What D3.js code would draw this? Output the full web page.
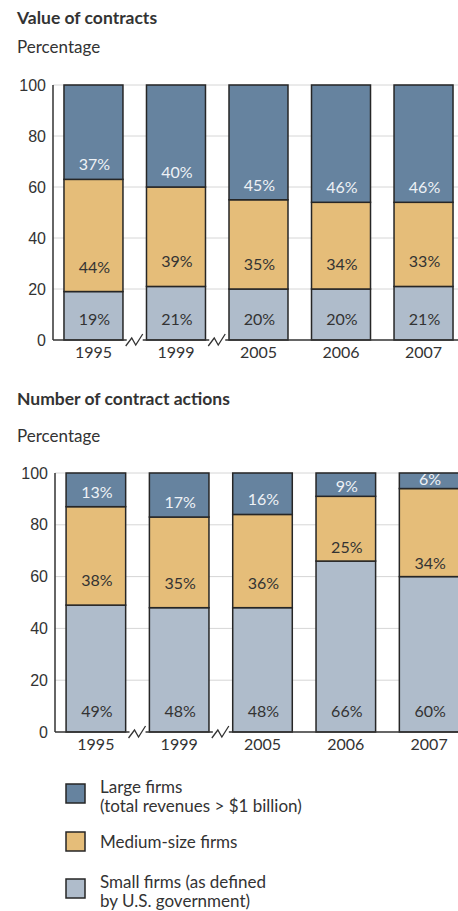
<!DOCTYPE html>
<html>
<head>
<meta charset="utf-8">
<script src="https://cdn.jsdelivr.net/npm/d3@7"></script>
<style>
  body { margin: 0; background: #fff; }
  text { font-family: Lato, "Open Sans", sans-serif; }
</style>
</head>
<body>
<svg class="chart"></svg>
<script>
// Data
var years = ["1995", "1999", "2005", "2006", "2007"];
var valueLarge = [37, 40, 45, 46, 46];
var valueMedium = [44, 39, 35, 34, 33];
var valueSmall = [19, 21, 20, 20, 21];
var actionsLarge = [13, 17, 16, 9, 6];
var actionsMedium = [38, 35, 36, 25, 34];
var actionsSmall = [49, 48, 48, 66, 60];
var yTicks = [0, 20, 40, 60, 80, 100];
var breaksAfter = ["1995", "1999"]; // axis break after these years
var legendLabels = [
  ["Large firms", "(total revenues > $1 billion)"],
  ["Medium-size firms"],
  ["Small firms (as defined", "by U.S. government)"]
];

var width = 458, height = 911;
var keys = ["small", "medium", "large"];
var colors = { large: "#66839f", medium: "#e5bd79", small: "#afbccb" };
var labelColors = { large: "#eef2f6", medium: "#333", small: "#333" };

var svg = d3.select(".chart")
  .attr("width", width)
  .attr("height", height);

function drawChart(cfg) {
  var rows = years.map(function (yr, i) {
    return { year: yr, large: cfg.large[i], medium: cfg.medium[i], small: cfg.small[i] };
  });
  var series = d3.stack().keys(keys)(rows);

  var x = d3.scaleBand()
    .domain(years)
    .range([cfg.left, cfg.left + cfg.span])
    .paddingInner(0.285)
    .paddingOuter(0.133);

  var y = d3.scaleLinear()
    .domain([0, 100])
    .range([cfg.bottom, cfg.top]);

  var g = svg.append("g");

  // titles
  g.append("text")
    .attr("x", 17).attr("y", cfg.titleY)
    .style("font-size", "17.5px").style("font-weight", "bold")
    .attr("fill", "#333")
    .text(cfg.title);
  g.append("text")
    .attr("x", 17).attr("y", cfg.titleY + 29 + (cfg.subGap || 0))
    .style("font-size", "17px")
    .attr("fill", "#333")
    .text("Percentage");

  // gridlines
  g.selectAll(".grid")
    .data(yTicks.filter(function (d) { return d > 0; }))
    .enter().append("line")
    .attr("x1", cfg.left).attr("x2", width)
    .attr("y1", function (d) { return y(d); })
    .attr("y2", function (d) { return y(d); })
    .attr("stroke", "#d6d6d6").attr("stroke-width", 1);

  // y axis labels
  var axis = g.append("g")
    .attr("transform", "translate(" + cfg.left + ",0)")
    .call(d3.axisLeft(y).tickValues(yTicks).tickSize(0).tickPadding(7));
  axis.select(".domain").remove();
  axis.selectAll("text")
    .style("font-family", "'Liberation Sans', Arial, sans-serif")
    .style("font-size", "16px")
    .attr("fill", "#333");

  g.append("line")
    .attr("x1", cfg.left).attr("x2", cfg.left)
    .attr("y1", y(0)).attr("y2", y(100))
    .attr("stroke", "#333").attr("stroke-width", 1.5);

  // bars
  var layer = g.selectAll(".layer")
    .data(series)
    .enter().append("g");

  layer.selectAll("rect")
    .data(function (s) { return s.map(function (d) { return { key: s.key, d: d }; }); })
    .enter().append("rect")
    .attr("x", function (p) { return x(p.d.data.year); })
    .attr("width", x.bandwidth())
    .attr("y", function (p) { return y(p.d[1]); })
    .attr("height", function (p) { return y(p.d[0]) - y(p.d[1]); })
    .attr("fill", function (p) { return colors[p.key]; })
    .attr("stroke", "#262626")
    .attr("stroke-width", 1.5);

  // value labels, sitting near the bottom of each segment
  layer.selectAll("text")
    .data(function (s) { return s.map(function (d) { return { key: s.key, d: d }; }); })
    .enter().append("text")
    .attr("x", function (p) { return x(p.d.data.year) + x.bandwidth() / 2 + 1; })
    .attr("y", function (p) {
      var base = y(p.d[0]);
      var largePx = (p.d.data.large) * (cfg.bottom - cfg.top) / 100;
      if (p.key === "large") return base - (largePx < 30 ? 4 : 9);
      if (p.key === "medium") return base - (p.d.data.large < 12 ? 8 : 19);
      return base - 15;
    })
    .attr("text-anchor", "middle")
    .style("font-size", "16px")
    .attr("fill", function (p) { return labelColors[p.key]; })
    .text(function (p) { return p.d.data[p.key] + "%"; });

  // baseline with axis breaks
  var gaps = breaksAfter.map(function (yr) {
    var i = years.indexOf(yr);
    return (x(yr) + x.bandwidth() + x(years[i + 1])) / 2;
  });
  var y0 = y(0);
  var segs = [];
  var start = cfg.left;
  gaps.forEach(function (c) {
    segs.push([start, c - 8]);
    start = c + 8;
  });
  segs.push([start, width]);
  g.selectAll(".base")
    .data(segs)
    .enter().append("line")
    .attr("x1", function (d) { return d[0]; })
    .attr("x2", function (d) { return d[1]; })
    .attr("y1", y0).attr("y2", y0)
    .attr("stroke", "#333").attr("stroke-width", 1.5);
  g.selectAll(".zig")
    .data(gaps)
    .enter().append("path")
    .attr("d", function (c) {
      return "M" + (c - 9) + "," + (y0 + 6) + "L" + (c - 3) + "," + (y0 - 2) +
        "L" + (c + 1) + "," + (y0 + 5) + "L" + (c + 8) + "," + (y0 - 6);
    })
    .attr("fill", "none").attr("stroke", "#333").attr("stroke-width", 1.3);

  // year labels
  g.selectAll(".year")
    .data(years)
    .enter().append("text")
    .attr("x", function (d) { return x(d) + x.bandwidth() / 2; })
    .attr("y", y0 + 18)
    .attr("text-anchor", "middle")
    .style("font-size", "16px")
    .attr("fill", "#333")
    .text(function (d) { return d; });
}

drawChart({
  title: "Value of contracts", titleY: 24,
  top: 85, bottom: 340, left: 53, span: 411,
  large: valueLarge, medium: valueMedium, small: valueSmall
});

drawChart({
  title: "Number of contract actions", titleY: 405, subGap: 8,
  top: 473, bottom: 732, left: 55, span: 415,
  large: actionsLarge, medium: actionsMedium, small: actionsSmall
});

// legend
var legendKeys = ["large", "medium", "small"];
var legendY = [784, 832, 879];
var legend = svg.selectAll(".legend")
  .data(legendKeys)
  .enter().append("g")
  .attr("transform", function (d, i) { return "translate(66," + legendY[i] + ")"; });

legend.append("rect")
  .attr("width", 19).attr("height", 19)
  .attr("fill", function (d) { return colors[d]; })
  .attr("stroke", "#262626").attr("stroke-width", 1.5);

legend.append("text")
  .attr("x", 34).attr("y", function (d, i) { return i === 1 ? 16 : 9; })
  .style("font-size", "17px")
  .attr("fill", "#333")
  .selectAll("tspan")
  .data(function (d, i) { return legendLabels[i]; })
  .enter().append("tspan")
  .attr("x", 34)
  .attr("dy", function (d, j) { return j === 0 ? 0 : 19; })
  .text(function (d) { return d; });
</script>
</body>
</html>
